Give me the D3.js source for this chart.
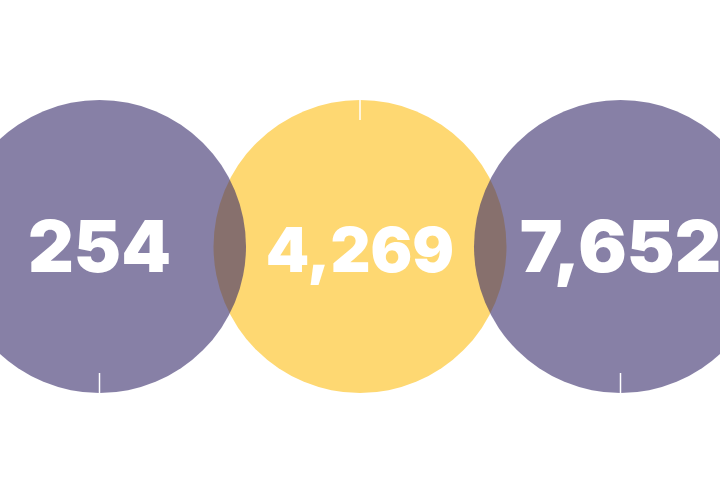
<!DOCTYPE html>
<html>
<head>
<meta charset="utf-8">
<script src="https://cdn.jsdelivr.net/npm/d3@7"></script>
<style>
  html, body { margin: 0; padding: 0; background: #fff; }
  svg { display: block; }
</style>
</head>
<body>
<svg id="chart" width="720" height="500"></svg>
<script>
const categories = ["first", "second", "third"];
const values = [254, 4269, 7652];
const colorKeys = ["purple", "yellow", "purple"];

const W = 720, H = 500;
const svg = d3.select("#chart");

const x = d3.scalePoint().domain(categories).range([99.5, 620.5]);
const cy = 246.5;
const r = 146.5;
const fill = d3.scaleOrdinal().domain(["purple", "yellow"]).range(["rgb(55,43,107)", "rgb(254,216,114)"]);
const opacity = d3.scaleOrdinal().domain(["purple", "yellow"]).range([0.6, 1]);
const fontSize = d3.scaleOrdinal().domain(categories).range([71, 62, 72]);
const fmt = d3.format(",");

const data = categories.map((c, i) => ({ c, v: values[i], k: colorKeys[i], i }));
// yellow underneath, purple on top
const order = data.slice().sort((a, b) => (a.k === "yellow" ? -1 : 0) - (b.k === "yellow" ? -1 : 0));

const g = svg.append("g");
g.selectAll("circle").data(order).join("circle")
  .attr("cx", d => x(d.c))
  .attr("cy", cy)
  .attr("r", r)
  .attr("fill", d => fill(d.k))
  .attr("fill-opacity", d => opacity(d.k));

g.selectAll("line").data(data).join("line")
  .attr("x1", d => x(d.c)).attr("x2", d => x(d.c))
  .attr("y1", d => d.i % 2 === 1 ? cy - r : cy + r)
  .attr("y2", d => d.i % 2 === 1 ? cy - r + 20 : cy + r - 20)
  .attr("stroke", "#fff")
  .attr("stroke-width", 1.5);

g.selectAll("text").data(data).join("text")
  .attr("x", d => x(d.c))
  .attr("y", 272)
  .attr("text-anchor", "middle")
  .attr("fill", "#fff")
  .attr("font-family", "Inter, 'DejaVu Sans', sans-serif")
  .attr("font-weight", 900)
  .attr("font-size", d => fontSize(d.c))
  .text(d => fmt(d.v));
</script>
</body>
</html>
